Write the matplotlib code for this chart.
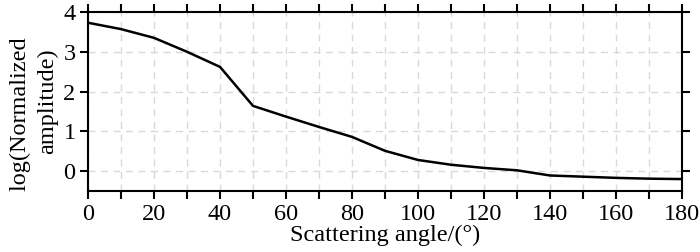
import matplotlib
matplotlib.use("Agg")
import matplotlib.pyplot as plt
import numpy as np

# Scattering angle vs log normalized amplitude
angle = [0, 10, 20, 30, 40, 50, 60, 70, 80, 90, 100, 110, 120, 130, 140, 150, 160, 170, 180]
log_amp = [3.73, 3.57, 3.35, 3.0, 2.62, 1.64, 1.37, 1.11, 0.86, 0.51, 0.28, 0.16, 0.08, 0.02,
           -0.11, -0.14, -0.17, -0.19, -0.20]

plt.rcParams["font.family"] = ["Liberation Serif", "DejaVu Serif"]

fig = plt.figure(figsize=(7, 2.52), dpi=100)
ax = fig.add_axes([88 / 700, 1 - 191 / 252, 594 / 700, 179 / 252])

ax.plot(angle, log_amp, color="black", lw=1.8)

ax.set_xlim(0, 180)
ax.set_ylim(-0.5, 4)
ax.set_xticks(np.arange(0, 181, 20))
ax.set_xticks(np.arange(0, 181, 10), minor=True)
ax.set_yticks([0, 1, 2, 3, 4])

ax.grid(True, which="both", axis="x", color="#d9d9d9", ls=(0, (5, 4)), lw=1)
ax.grid(True, which="major", axis="y", color="#d9d9d9", ls=(0, (5, 4)), lw=1)

ax.tick_params(which="both", direction="out", top=True, right=True,
               length=6, width=1.5, labelsize=17.5, pad=3)
for s in ax.spines.values():
    s.set_linewidth(1.5)

ax.set_xlabel("Scattering angle/(°)", fontsize=17.5, labelpad=0)
ax.set_ylabel("log(Normalized    \namplitude)", fontsize=17.5, linespacing=1.35, labelpad=4)

fig.savefig("out.png", dpi=100)
